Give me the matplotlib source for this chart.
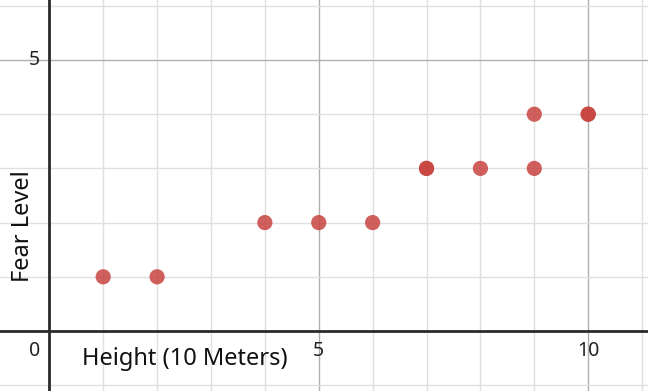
import matplotlib.pyplot as plt
import numpy as np

# --- Data (repeated points are drawn twice) ---
height = [1, 2, 4, 5, 6, 7, 7, 8, 9, 9, 10, 10]
fear = [1, 1, 2, 2, 2, 3, 3, 3, 3, 4, 4, 4]

x_ticks = [5, 10]
y_ticks = [5]

plt.rcParams['font.family'] = ['Noto Sans', 'DejaVu Sans']

fig = plt.figure(figsize=(6.48, 3.91), dpi=100)
ax = fig.add_axes([0, 0, 1, 1])

xmin, xmax = -0.915, 11.11
ymin, ymax = -1.107, 6.107
ax.set_xlim(xmin, xmax)
ax.set_ylim(ymin, ymax)

# grid: light minor lines every unit, darker major lines every 5
for gx in range(-1, 12):
    c = '#b0b0b0' if gx % 5 == 0 else '#e0e0e0'
    ax.axvline(gx, color=c, lw=1.0, zorder=0)
for gy in range(-1, 7):
    c = '#b0b0b0' if gy % 5 == 0 else '#e0e0e0'
    ax.axhline(gy, color=c, lw=1.0, zorder=0)

# axes through the origin
ax.axvline(0, color='#2b2b2b', lw=2.0, zorder=1)
ax.axhline(0, color='#2b2b2b', lw=2.0, zorder=1)

ax.scatter(height, fear, s=120, color='#c74440', alpha=0.85,
           edgecolors='none', zorder=3)

# tick labels
for t in x_ticks:
    ax.text(t, -0.36, str(t), ha='center', va='center', fontsize=14, color='#222222')
for t in y_ticks:
    ax.text(-0.27, t, str(t), ha='center', va='center', fontsize=14, color='#222222')
ax.text(-0.28, -0.36, '0', ha='center', va='center', fontsize=14, color='#222222')

# axis titles drawn inside the plot
ax.text(2.52, -0.52, 'Height (10 Meters)', ha='center', va='center', fontsize=17, color='#111111')
ax.text(-0.49, 1.94, 'Fear Level', ha='center', va='center', rotation=90,
        fontsize=17, color='#111111')

ax.set_xticks([])
ax.set_yticks([])
for s in ax.spines.values():
    s.set_visible(False)

fig.savefig('out.png', dpi=100)
